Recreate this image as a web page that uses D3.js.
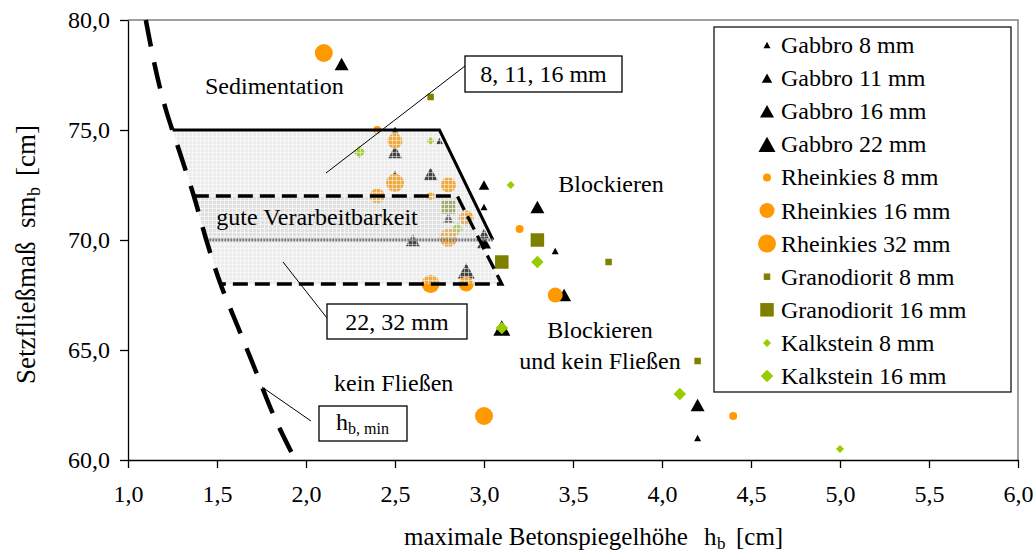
<!DOCTYPE html>
<html>
<head>
<meta charset="utf-8">
<script src="https://cdn.jsdelivr.net/npm/d3@7"></script>
<style>
  body { margin: 0; background: #fff; }
  svg text { font-family: "Liberation Serif", "Times New Roman", serif; fill: #000; }
</style>
</head>
<body>
<svg id="chart" width="1034" height="554" font-family="Liberation Serif, Times New Roman, serif"></svg>
<script>
// Measured points: [maximale Betonspiegelhöhe hb (cm), Setzfließmaß sm_b (cm)]
const gabbro8       = [[2.5, 75.0], [2.75, 74.5], [2.5, 73.0], [3.0, 71.5], [3.4, 69.5], [4.2, 61.0]];
const gabbro11      = [[3.0, 72.5], [2.8, 71.0], [3.0, 70.3]];
const gabbro16      = [[2.2, 78.0], [2.5, 74.0], [2.7, 73.0], [2.6, 70.0], [3.0, 69.9], [3.3, 71.5], [3.45, 67.5], [4.2, 62.5]];
const gabbro22      = [[2.9, 68.6], [3.1, 66.0]];
const rheinkies8    = [[2.4, 75.0], [2.7, 72.0], [3.2, 70.5], [4.4, 62.0]];
const rheinkies16   = [[2.4, 72.0], [2.5, 74.5], [2.8, 72.5], [2.9, 71.0], [2.9, 68.0], [3.4, 67.5]];
const rheinkies32   = [[2.1, 78.5], [2.5, 72.6], [2.8, 70.1], [2.7, 68.0], [3.0, 62.0]];
const granodiorit8  = [[2.7, 76.5], [3.7, 69.0], [4.2, 64.5]];
const granodiorit16 = [[2.8, 71.5], [3.1, 69.0], [3.3, 70.0]];
const kalkstein8    = [[2.7, 74.5], [3.15, 72.5], [5.0, 60.5]];
const kalkstein16   = [[2.3, 74.0], [2.85, 70.5], [3.3, 69.0], [3.1, 66.0], [4.1, 63.0]];

const seriesNames = ["Gabbro 8 mm", "Gabbro 11 mm", "Gabbro 16 mm", "Gabbro 22 mm",
                     "Rheinkies 8 mm", "Rheinkies 16 mm", "Rheinkies 32 mm",
                     "Granodiorit 8 mm", "Granodiorit 16 mm", "Kalkstein 8 mm", "Kalkstein 16 mm"];

const xTicks = [1.0, 1.5, 2.0, 2.5, 3.0, 3.5, 4.0, 4.5, 5.0, 5.5, 6.0];
const yTicks = [60, 65, 70, 75, 80];

// lower limit h_b,min as [hb, sm]
const hbMin = [[1.10, 80], [1.21, 76], [1.29, 74], [1.37, 72], [1.44, 70], [1.52, 68],
               [1.62, 66], [1.72, 64], [1.82, 62], [1.94, 60]];

// range of good workability: sm from top to bottom, right edge hb at top and bottom
const zoneCoarse = { top: 75, bottom: 70, hbTop: 2.75, hbBottom: 3.05 };   // 8, 11, 16 mm
const zoneFine   = { top: 72, bottom: 68, hbTop: 2.85, hbBottom: 3.10 };   // 22, 32 mm

const svg = d3.select("#chart");
const x = d3.scaleLinear().domain([1, 6]).range([128, 1018]);
const y = d3.scaleLinear().domain([60, 80]).range([460, 20]);
const fmt = d => d3.format(".1f")(d).replace(".", ",");
const SERIF = "Liberation Serif, Times New Roman, serif";

// marker shapes; "size" is the marker width in px
const triangle = { draw(c, w) { const h = w * 0.9; c.moveTo(0, -h / 2); c.lineTo(w / 2, h / 2); c.lineTo(-w / 2, h / 2); c.closePath(); } };
const circle   = { draw(c, w) { c.moveTo(w / 2, 0); c.arc(0, 0, w / 2, 0, 2 * Math.PI); } };
const square   = { draw(c, w) { c.rect(-w / 2, -w / 2, w, w); } };
const diamond  = { draw(c, w) { const r = w / 2; c.moveTo(0, -r); c.lineTo(r, 0); c.lineTo(0, r); c.lineTo(-r, 0); c.closePath(); } };

const BLACK = "#000000", ORANGE = "#FF9900", OLIVE = "#808000", LIME = "#99CC00";
const series = [
  { data: gabbro8,       shape: triangle, w: 7,    color: BLACK },
  { data: gabbro11,      shape: triangle, w: 10.5, color: BLACK },
  { data: gabbro16,      shape: triangle, w: 14,   color: BLACK },
  { data: gabbro22,      shape: triangle, w: 17,   color: BLACK },
  { data: rheinkies8,    shape: circle,   w: 8,    color: ORANGE },
  { data: rheinkies16,   shape: circle,   w: 15,   color: ORANGE },
  { data: rheinkies32,   shape: circle,   w: 18,   color: ORANGE },
  { data: granodiorit8,  shape: square,   w: 6.5,  color: OLIVE },
  { data: granodiorit16, shape: square,   w: 13.5, color: OLIVE },
  { data: kalkstein8,    shape: diamond,  w: 8,    color: LIME },
  { data: kalkstein16,   shape: diamond,  w: 12.5, color: LIME }
].map((s, i) => ({ ...s, name: seriesNames[i] }));

// hatched translucent fill for the workability zones
const defs = svg.append("defs");
const pat = defs.append("pattern").attr("id", "gridFill")
  .attr("patternUnits", "userSpaceOnUse").attr("width", 4).attr("height", 4);
pat.append("rect").attr("width", 4).attr("height", 4).attr("fill", "rgb(200,200,200)").attr("fill-opacity", 0.34);
pat.append("path").attr("d", "M0,0.5H4M0.5,0V4").attr("stroke", "#fff").attr("stroke-opacity", 0.5).attr("stroke-width", 1);

// plot frame
svg.append("path")
  .attr("d", `M${x(1)},${y(80)}H${x(6)}V${y(60)}`)
  .attr("fill", "none").attr("stroke", "#808080").attr("stroke-width", 1.5);

// points
const pts = svg.append("g");
series.forEach(s => {
  pts.append("g").selectAll("path").data(s.data).join("path")
    .attr("transform", d => `translate(${x(d[0])},${y(d[1])})`)
    .attr("d", d3.symbol(s.shape, s.w))
    .attr("fill", s.color);
});

// zones
function hbAt(sm) {
  for (let i = 0; i < hbMin.length - 1; i++) {
    const [h0, s0] = hbMin[i], [h1, s1] = hbMin[i + 1];
    if (sm <= s0 && sm >= s1) return h0 + (h1 - h0) * (s0 - sm) / (s0 - s1);
  }
  return hbMin[hbMin.length - 1][0];
}
function zonePolygon(z) {
  const inner = hbMin.filter(d => d[1] < z.top && d[1] > z.bottom).slice().reverse();
  return [[hbAt(z.top), z.top], [z.hbTop, z.top], [z.hbBottom, z.bottom], [hbAt(z.bottom), z.bottom], ...inner];
}
const lineXY = d3.line().x(d => x(d[0])).y(d => y(d[1]));
[zoneCoarse, zoneFine].forEach(z => {
  svg.append("path").attr("d", lineXY(zonePolygon(z)) + "Z").attr("fill", "url(#gridFill)");
});

// coarse zone outline: solid top and right, grey dotted bottom
svg.append("path")
  .attr("d", lineXY([[hbAt(zoneCoarse.top), zoneCoarse.top], [zoneCoarse.hbTop, zoneCoarse.top], [zoneCoarse.hbBottom, zoneCoarse.bottom]]))
  .attr("fill", "none").attr("stroke", "#000").attr("stroke-width", 3).attr("stroke-linejoin", "miter");
svg.append("path")
  .attr("d", lineXY([[hbAt(zoneCoarse.bottom), zoneCoarse.bottom], [zoneCoarse.hbBottom, zoneCoarse.bottom]]))
  .attr("fill", "none").attr("stroke", "#7a7a7a").attr("stroke-width", 3).attr("stroke-dasharray", "2,1");

// fine zone outline: dashed
svg.append("path")
  .attr("d", lineXY([[hbAt(zoneFine.top), zoneFine.top], [zoneFine.hbTop, zoneFine.top],
                     [zoneFine.hbBottom, zoneFine.bottom], [hbAt(zoneFine.bottom), zoneFine.bottom]]))
  .attr("fill", "none").attr("stroke", "#000").attr("stroke-width", 3.3).attr("stroke-dasharray", "15,7");

// h_b,min boundary
svg.append("path")
  .attr("d", d3.line().x(d => x(d[0])).y(d => y(d[1])).curve(d3.curveMonotoneY)(hbMin))
  .attr("fill", "none").attr("stroke", "#000").attr("stroke-width", 4.5).attr("stroke-dasharray", "27,16");

// axes
const axL = svg.append("g").attr("transform", `translate(${x(1)},0)`)
  .call(d3.axisLeft(y).tickValues(yTicks).tickFormat(fmt).tickSize(8).tickSizeOuter(0).tickPadding(10));
const axB = svg.append("g").attr("transform", `translate(0,${y(60)})`)
  .call(d3.axisBottom(x).tickValues(xTicks).tickFormat(fmt).tickSize(8).tickSizeOuter(0).tickPadding(17));
[axL, axB].forEach(a => {
  a.attr("font-family", SERIF);
  a.selectAll("text").attr("font-size", 24).attr("font-family", SERIF).attr("fill", "#000");
  a.selectAll("path,line").attr("stroke", "#000").attr("stroke-width", 1.3);
});

// axis titles
const xt = svg.append("text").attr("y", 545).attr("font-size", 25);
xt.append("tspan").attr("x", 404).text("maximale Betonspiegelhöhe");
xt.append("tspan").attr("x", 704).text("h");
xt.append("tspan").attr("x", 717).attr("dy", 4).attr("font-size", 17).text("b");
xt.append("tspan").attr("x", 736).attr("dy", -4).text("[cm]");

const yt = svg.append("text").attr("transform", "translate(35,0) rotate(-90)").attr("font-size", 27);
yt.append("tspan").attr("x", -384).text("Setzfließmaß");
yt.append("tspan").attr("x", -228).text("sm");
yt.append("tspan").attr("x", -196).attr("dy", 5).attr("font-size", 18).text("b");
yt.append("tspan").attr("x", -176).attr("dy", -5).text("[cm]");

// region labels
const lbl = (tx, ty, str, anchor) => svg.append("text").attr("x", tx).attr("y", ty)
  .attr("font-size", 24).attr("text-anchor", anchor || "start").text(str);
lbl(205, 94, "Sedimentation");
lbl(611, 192, "Blockieren", "middle");
lbl(600, 338, "Blockieren", "middle");
lbl(600, 369, "und kein Fließen", "middle");
lbl(334, 391, "kein Fließen");
lbl(317, 225, "gute Verarbeitbarkeit", "middle");

// callouts
function callout(box, from, to) {
  svg.append("line").attr("x1", from[0]).attr("y1", from[1]).attr("x2", to[0]).attr("y2", to[1])
    .attr("stroke", "#000").attr("stroke-width", 1);
  svg.append("rect").attr("x", box[0]).attr("y", box[1]).attr("width", box[2]).attr("height", box[3])
    .attr("fill", "#fff").attr("stroke", "#000").attr("stroke-width", 1.3);
}
callout([465, 56, 157, 36], [326, 173], [465, 66]);
svg.append("text").attr("x", 543.5).attr("y", 82).attr("font-size", 24).attr("text-anchor", "middle").text("8, 11, 16 mm");
callout([327, 304, 140, 35], [283, 262], [327, 318]);
svg.append("text").attr("x", 397).attr("y", 330).attr("font-size", 24).attr("text-anchor", "middle").text("22, 32 mm");
callout([319, 406, 88, 35], [262, 387], [311, 421]);
const hl = svg.append("text").attr("x", 336).attr("y", 430).attr("font-size", 24);
hl.append("tspan").text("h");
hl.append("tspan").attr("dy", 4).attr("font-size", 16).text("b, min");

// legend
const lg = svg.append("g");
lg.append("rect").attr("x", 714).attr("y", 27).attr("width", 297).attr("height", 365)
  .attr("fill", "#fff").attr("stroke", "#000").attr("stroke-width", 1.2);
series.forEach((s, i) => {
  const cy = 45 + i * 33.1;
  lg.append("path").attr("transform", `translate(767,${cy})`).attr("d", d3.symbol(s.shape, s.w)).attr("fill", s.color);
  lg.append("text").attr("x", 781).attr("y", cy + 8).attr("font-size", 24).text(s.name);
});
</script>
</body>
</html>
